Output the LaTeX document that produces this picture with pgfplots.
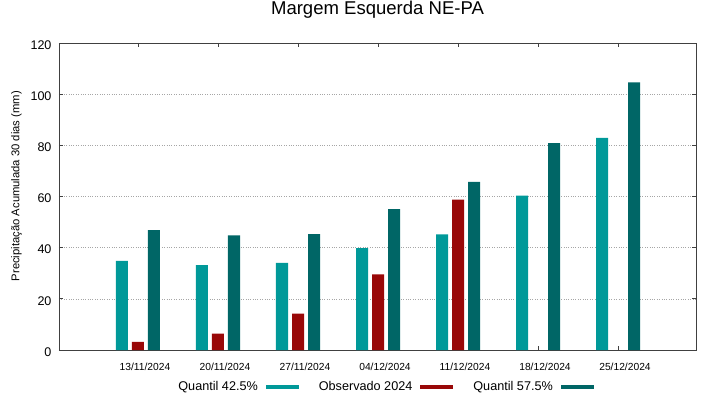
\documentclass[border=0pt]{standalone}
\usepackage{fontspec}
\setmainfont{Liberation Sans}
\usepackage{pgfplots}
\pgfplotsset{compat=1.18}
\definecolor{qlow}{RGB}{0,153,153}
\definecolor{obs}{RGB}{153,8,8}
\definecolor{qhigh}{RGB}{0,102,102}
\begin{document}
\begin{tikzpicture}
\begin{axis}[
  scale only axis, width=637bp, height=307bp,
  xmin=-0.9875, xmax=6.975, ymin=0, ymax=120,
  ybar=4bp, bar width=12bp,
  xtick={0,...,6},
  xticklabels={13/11/2024,20/11/2024,27/11/2024,04/12/2024,11/12/2024,18/12/2024,25/12/2024},
  ytick={0,20,...,120},
  ymajorgrids, major grid style={dotted, gray!70, line width=0.5bp},
  tick align=inside, major tick length=4bp,
  axis line style={line width=0.8bp, black!75},
  tick style={black!75, line width=0.8bp},
  /pgf/number format/assume math mode=true,
  yticklabel style={font=\fontsize{12.6}{15}\selectfont, xshift=-4bp, yshift=-2bp},
  xticklabel style={font=\fontsize{10.3}{12}\selectfont, anchor=base, xshift=7bp, yshift=-20.5bp},
  title={Margem Esquerda NE-PA},
  title style={font=\fontsize{18.6}{22}\selectfont, at={(0.5,1)}, anchor=base, yshift=23bp},
  ylabel={Precipitação Acumulada 30 dias (mm)},
  every axis y label/.style={at={(axis description cs:-42.5/637,0.534)}, rotate=90, anchor=center, font=\fontsize{11.3}{13}\selectfont},
  legend columns=3, legend plot pos=right,
  legend style={at={(axis description cs:0.512,-0.1205)}, anchor=center, draw=none, fill=none,
    font=\fontsize{12.7}{15}\selectfont,
    /tikz/every odd column/.append style={column sep=6bp},
    /tikz/every even column/.append style={column sep=18bp}},
  legend image code/.code={\fill[#1] (0bp,-2bp) rectangle (33bp,2bp);},
]
\addplot[fill=qlow, draw=none] coordinates {(0,34.8) (1,33.2) (2,34.1) (3,39.8) (4,45.2) (5,60.3) (6,82.9)};
\addlegendentry{Quantil 42.5\%}
\addplot[fill=obs, draw=none] coordinates {(0,3.2) (1,6.4) (2,14.2) (3,29.6) (4,58.8)};
\addlegendentry{Observado 2024}
\addplot[fill=qhigh, draw=none] coordinates {(0,46.9) (1,44.8) (2,45.3) (3,55.1) (4,65.7) (5,80.9) (6,104.6)};
\addlegendentry{Quantil 57.5\%}
\end{axis}
\pgfresetboundingbox
\useasboundingbox (-59bp,-49bp) rectangle (660bp,350bp);
\end{tikzpicture}
\end{document}
